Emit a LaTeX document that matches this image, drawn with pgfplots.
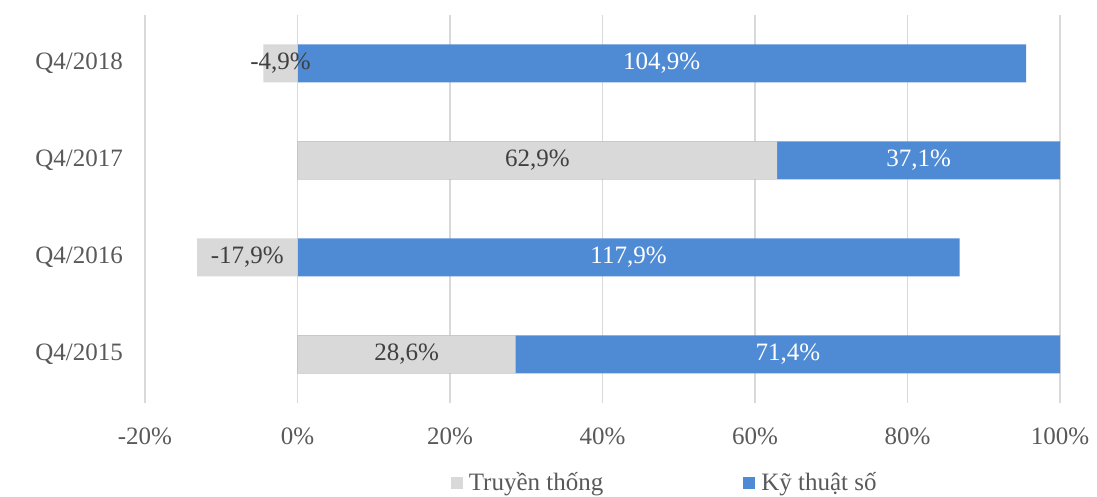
\documentclass[border=0pt]{standalone}
\usepackage{fontspec}
\setmainfont{Liberation Serif}
\usepackage{pgfplots}
\pgfplotsset{compat=1.18}
\definecolor{bargray}{HTML}{D9D9D9}
\definecolor{barblue}{HTML}{4F8BD4}
\definecolor{txt}{HTML}{595959}
\definecolor{lbl}{HTML}{404040}
\definecolor{gridc}{HTML}{D9D9D9}
\begin{document}
\begin{tikzpicture}
\useasboundingbox (-145pt,-94pt) rectangle (952pt,403pt);
\begin{axis}[
  scale only axis, width=915pt, height=388pt,
  xmin=-20, xmax=100, ymin=-0.5, ymax=3.5,
  xtick={-20,0,20,40,60,80,100},
  xticklabels={-20\%,0\%,20\%,40\%,60\%,80\%,100\%},
  ytick={0,1,2,3}, yticklabels={Q4/2015,Q4/2016,Q4/2017,Q4/2018},
  axis line style={draw=none},
  major tick length=0pt,
  xmajorgrids, major grid style={gridc, line width=1.5pt},
  tick label style={font=\fontsize{25}{29}\selectfont, text=txt},
  xticklabel style={anchor=center, inner sep=0pt, yshift=-33pt},
  yticklabel style={anchor=east, inner sep=0pt, xshift=-22pt},
  legend style={at={(0.568,-0.205)}, anchor=center, draw=none, fill=none,
    legend columns=2, font=\fontsize{25}{29}\selectfont, text=txt,
    /tikz/every odd column/.append style={column sep=0pt},
    /tikz/every even column/.append style={column sep=138pt}},
  legend image code/.code={\fill[#1, draw=none] (0pt,-6pt) rectangle (12pt,6pt); \path (16pt,0pt);},
]
\addlegendimage{bargray, fill=bargray, draw=none}
\addlegendentry{Truyền thống}
\addlegendimage{barblue, fill=barblue, draw=none}
\addlegendentry{Kỹ thuật số}
% blue drawn from 0 to its cumulative end, gray drawn on top
\addplot[xbar, bar width=38pt, bar shift=0pt, fill=barblue, draw=none, forget plot]
  coordinates {(100,0) (86.82,1) (100,2) (95.54,3)};
\addplot[xbar, bar width=38pt, bar shift=0pt, fill=bargray, draw=none, forget plot]
  coordinates {(28.6,0) (-13.18,1) (62.9,2) (-4.46,3)};
\addplot[draw=none, forget plot, nodes near coords, point meta=explicit symbolic,
  every node near coord/.append style={anchor=center, font=\fontsize{25}{29}\selectfont, text=lbl}]
  coordinates {(14.3,0) [28,6\%] (-6.59,1) [-17,9\%] (31.45,2) [62,9\%] (-2.23,3) [-4,9\%]};
\addplot[draw=none, forget plot, nodes near coords, point meta=explicit symbolic,
  every node near coord/.append style={anchor=center, font=\fontsize{25}{29}\selectfont, text=white}]
  coordinates {(64.3,0) [71,4\%] (43.41,1) [117,9\%] (81.45,2) [37,1\%] (47.77,3) [104,9\%]};
\end{axis}
\end{tikzpicture}
\end{document}
